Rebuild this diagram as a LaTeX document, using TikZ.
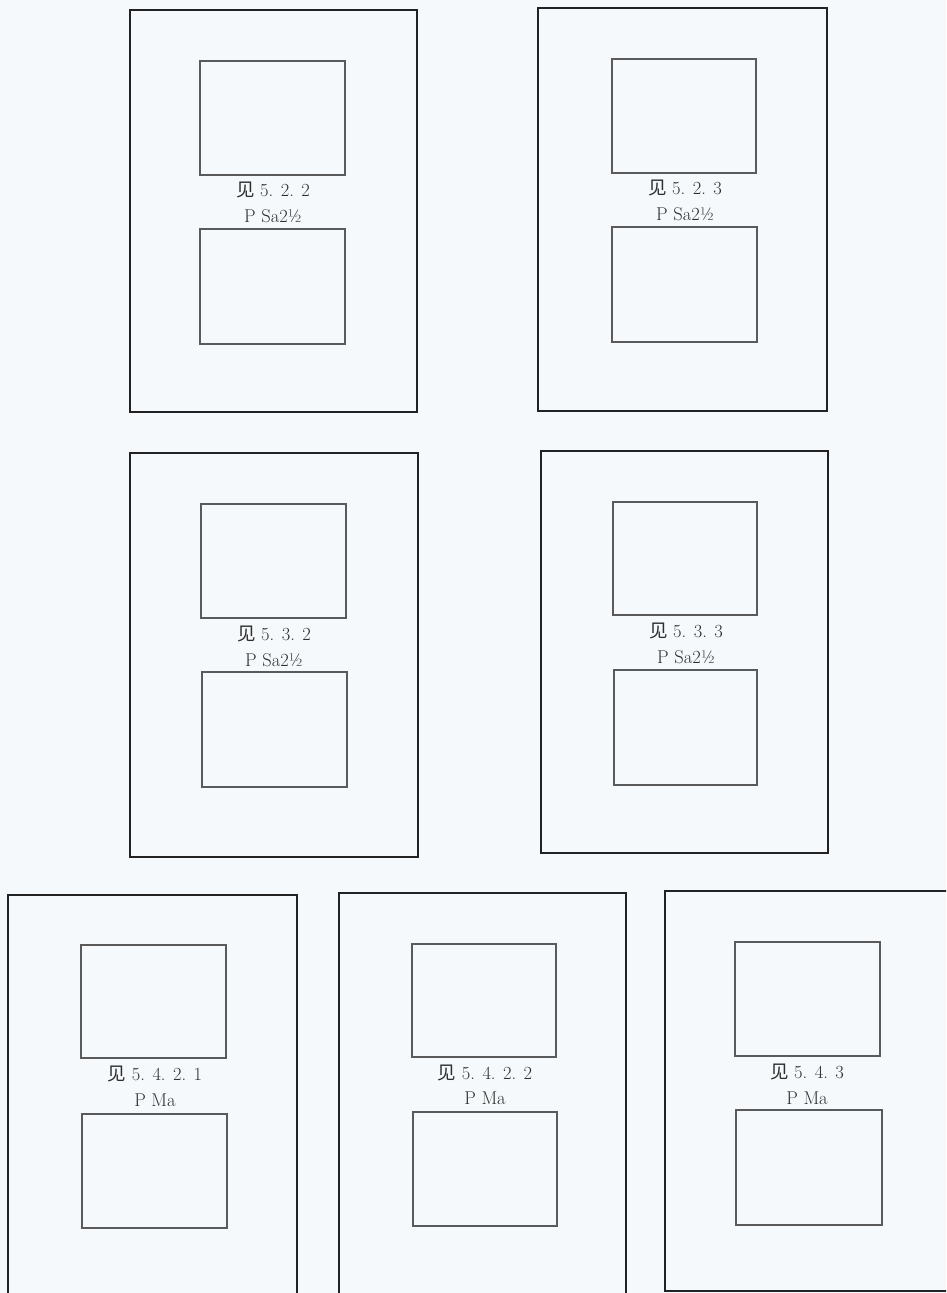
\documentclass[tikz,border=0pt]{standalone}
\usepackage{fontspec}
\newfontfamily\cjk{Noto Sans CJK SC}
\definecolor{bgc}{HTML}{F6F9FC}
\definecolor{outerc}{HTML}{222222}
\definecolor{innerc}{HTML}{5A5A5A}
\definecolor{txtc}{HTML}{2E2E2E}
\tikzset{
  outerbox/.style={draw=outerc, line width=2.2pt},
  innerbox/.style={draw=innerc, line width=1.1pt},
  lbl/.style={text=txtc, font=\fontsize{18.5}{22}\selectfont, inner sep=0pt, anchor=center}
}
\begin{document}
\begin{tikzpicture}[x=1pt,y=-1pt]
\useasboundingbox (0,0) rectangle (946,1293);
\fill[bgc] (0,0) rectangle (946,1293);
\begin{scope}
\clip (0,0) rectangle (946,1293);
% Panel A
\draw[outerbox] (130,10) rectangle (417,412);
\draw[innerbox] (200,61) rectangle (345,175);
\draw[innerbox] (200,229) rectangle (345,344);
\node[lbl] (a1) at (273,190) {{\cjk 见} 5. 2. 2};
\node[lbl] (a2) at (273,216) {P Sa2½};
% Panel B
\draw[outerbox] (538,8) rectangle (827,411);
\draw[innerbox] (612,59) rectangle (756,173);
\draw[innerbox] (612,227) rectangle (757,342);
\node[lbl] (b1) at (685,188) {{\cjk 见} 5. 2. 3};
\node[lbl] (b2) at (685,214) {P Sa2½};
% Panel C
\draw[outerbox] (130,453) rectangle (418,857);
\draw[innerbox] (201,504) rectangle (346,618);
\draw[innerbox] (202,672) rectangle (347,787);
\node[lbl] (c1) at (274,634) {{\cjk 见} 5. 3. 2};
\node[lbl] (c2) at (274,660) {P Sa2½};
% Panel D
\draw[outerbox] (541,451) rectangle (828,853);
\draw[innerbox] (613,502) rectangle (757,615);
\draw[innerbox] (614,670) rectangle (757,785);
\node[lbl] (d1) at (686,631) {{\cjk 见} 5. 3. 3};
\node[lbl] (d2) at (686,657) {P Sa2½};
% Panel E
\draw[outerbox] (8,895) rectangle (297,1310);
\draw[innerbox] (81,945) rectangle (226,1058);
\draw[innerbox] (82,1114) rectangle (227,1228);
\node[lbl] (e1) at (155,1074) {{\cjk 见} 5. 4. 2. 1};
\node[lbl] (e2) at (155,1100) {P Ma};
% Panel F
\draw[outerbox] (339,893) rectangle (626,1310);
\draw[innerbox] (412,944) rectangle (556,1057);
\draw[innerbox] (413,1112) rectangle (557,1226);
\node[lbl] (f1) at (485,1073) {{\cjk 见} 5. 4. 2. 2};
\node[lbl] (f2) at (485,1098) {P Ma};
% Panel G
\draw[outerbox] (665,891) rectangle (960,1291);
\draw[innerbox] (735,942) rectangle (880,1056);
\draw[innerbox] (736,1110) rectangle (882,1225);
\node[lbl] (g1) at (807,1072) {{\cjk 见} 5. 4. 3};
\node[lbl] (g2) at (807,1098) {P Ma};
\end{scope}
\end{tikzpicture}
\end{document}
